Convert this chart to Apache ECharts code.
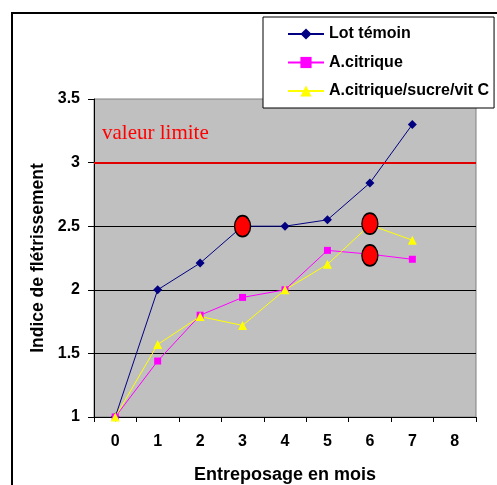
<!DOCTYPE html>
<html>
<head>
<meta charset="utf-8">
<title>Indice de flétrissement</title>
<script src="https://cdn.jsdelivr.net/npm/echarts@6/dist/echarts.min.js"></script>
<style>
  html, body { margin: 0; padding: 0; background: #fff; }
  #chart { width: 497px; height: 485px; }
</style>
</head>
<body>
<div id="chart"></div>
<script>
// months of storage (x categories)
const months = ['0', '1', '2', '3', '4', '5', '6', '7', '8'];

// wilting index per treatment
const lotTemoin = [1, 2.0, 2.21, 2.5, 2.5, 2.55, 2.84, 3.3];
const aCitrique = [1, 1.44, 1.8, 1.94, 2.0, 2.31, 2.28, 2.24];
const aCitriqueSucre = [1, 1.57, 1.79, 1.72, 2.0, 2.2, 2.51, 2.39];

// highlighted points (red ovals)
const highlights = [['3', 2.5], ['6', 2.52], ['6', 2.27]];

const limitValue = 3;
const yMin = 1, yMax = 3.5, yStep = 0.5;

const font = 'Liberation Sans, Arial, sans-serif';
const chart = echarts.init(document.getElementById('chart'), null, { renderer: 'canvas' });

chart.setOption({
  animation: false,
  backgroundColor: '#fff',
  textStyle: { fontFamily: font },
  grid: {
    left: 94, right: 21, top: 99, bottom: 68,
    outerBoundsMode: 'none',
    show: true, backgroundColor: '#c0c0c0', borderColor: '#808080', borderWidth: 1,
  },
  legend: {
    orient: 'vertical',
    left: 263, top: 17,
    backgroundColor: '#fff',
    borderColor: '#000', borderWidth: 1, borderRadius: 0,
    padding: [9, 5, 9, 24],
    itemWidth: 36, itemHeight: 14, itemGap: 12.5,
    textStyle: { fontFamily: font, fontWeight: 'bold', fontSize: 16, color: '#000' },
    data: ['Lot témoin', 'A.citrique', 'A.citrique/sucre/vit C'],
  },
  graphic: [
    { type: 'rect', shape: { x: 12, y: 13, width: 600, height: 600 },
      style: { fill: 'none', stroke: '#000', lineWidth: 2 }, z: -1 },
    { type: 'text', left: 102, top: 123, z: 10,
      style: { text: 'valeur limite', fill: '#ff0000', font: '21px "Liberation Serif", "Times New Roman", serif' } },
  ],
  xAxis: {
    type: 'category',
    data: months,
    boundaryGap: true,
    name: 'Entreposage en mois',
    nameLocation: 'middle',
    nameGap: 49,
    nameTextStyle: { fontFamily: font, fontWeight: 'bold', fontSize: 18, color: '#000' },
    axisLine: { lineStyle: { color: '#000', width: 1 } },
    axisTick: { show: true, interval: 0, length: 5, lineStyle: { color: '#000' } },
    axisLabel: { fontFamily: font, fontWeight: 'bold', fontSize: 16, color: '#000', margin: 17 },
    splitLine: { show: false },
  },
  yAxis: {
    type: 'value',
    min: yMin, max: yMax, interval: yStep,
    name: 'Indice de flétrissement',
    nameLocation: 'middle',
    nameGap: 47,
    nameTextStyle: { fontFamily: font, fontWeight: 'bold', fontSize: 17.5, color: '#000' },
    axisLine: { show: true, lineStyle: { color: '#000', width: 1 } },
    axisTick: { show: true, length: 6, lineStyle: { color: '#000' } },
    axisLabel: { fontFamily: font, fontWeight: 'bold', fontSize: 16, color: '#000', margin: 14 },
    splitLine: { show: true, showMinLine: false, showMaxLine: false, lineStyle: { color: '#000', width: 1 } },
  },
  series: [
    {
      name: 'Lot témoin', type: 'line', data: lotTemoin,
      symbol: 'diamond', symbolSize: 9,
      lineStyle: { color: '#000080', width: 1 },
      itemStyle: { color: '#000080' },
      z: 3,
      markLine: {
        silent: true, symbol: 'none', label: { show: false },
        lineStyle: { color: '#e00000', width: 2, type: 'solid' },
        data: [{ yAxis: limitValue }],
      },
    },
    {
      name: 'A.citrique', type: 'line', data: aCitrique,
      symbol: 'rect', symbolSize: 7,
      lineStyle: { color: '#ff00ff', width: 1 },
      itemStyle: { color: '#ff00ff' },
      z: 3,
    },
    {
      name: 'A.citrique/sucre/vit C', type: 'line', data: aCitriqueSucre,
      symbol: 'triangle', symbolSize: 9,
      lineStyle: { color: '#ffff00', width: 1 },
      itemStyle: { color: '#ffff00' },
      z: 3,
    },
    {
      name: 'highlights', type: 'scatter', data: highlights,
      symbol: 'circle', symbolSize: [16, 21],
      itemStyle: { color: '#ff0000', borderColor: '#000', borderWidth: 1.5, opacity: 1 },
      z: 5,
    },
  ],
});
</script>
</body>
</html>
